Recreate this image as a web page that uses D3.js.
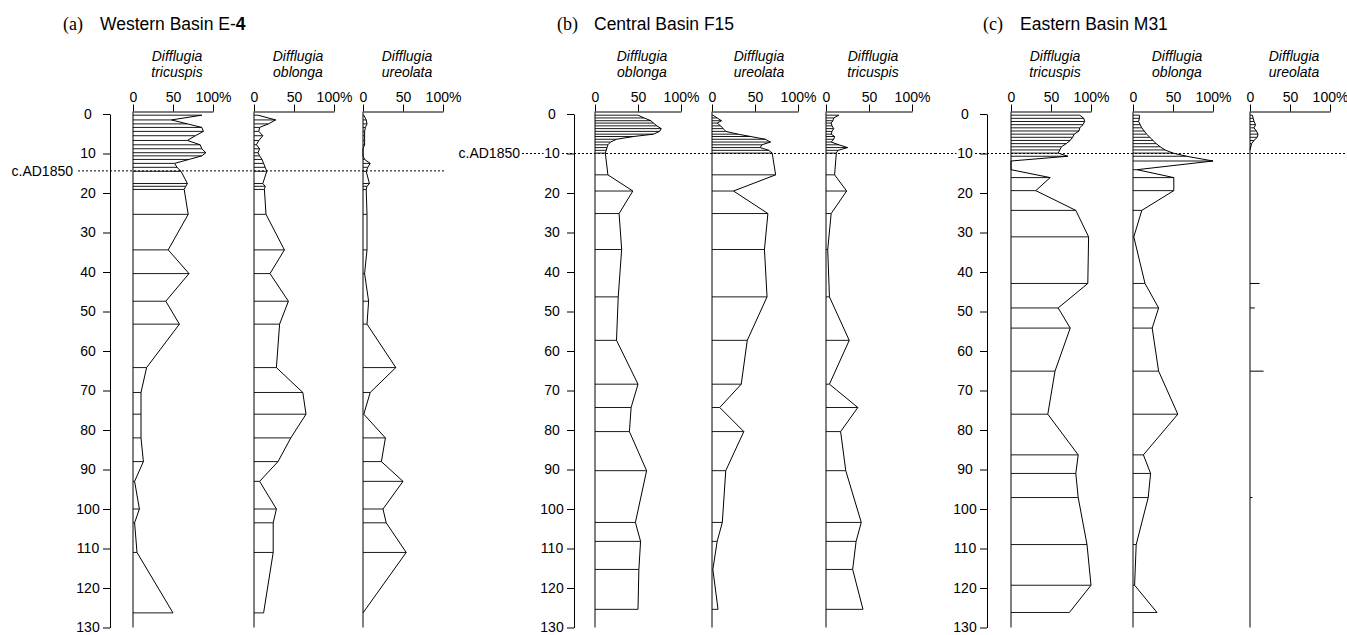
<!DOCTYPE html>
<html>
<head>
<meta charset="utf-8">
<script src="https://cdn.jsdelivr.net/npm/d3@7"></script>
<style>
body { margin: 0; background: #fff; }
svg { display: block; }
text { font-family: "Liberation Sans", Arial, sans-serif; fill: #000; }
</style>
</head>
<body>
<svg width="1347" height="635"></svg>
<script>
// sample depths (cm) and percentages per core
var depthsA = [0.3, 1.5, 2.5, 3.4, 4.4, 5.5, 6.7, 7.8, 8.8, 9.8, 10.6, 11.5, 12.5, 13.5, 14.5, 17.6, 18.3, 19.1,
               25.4, 34.4, 40.4, 47.4, 53.2, 64.2, 70.5, 76, 82, 88, 93, 100, 103.5, 111, 126.3];
var tricuspisA = [86, 48, 68, 86, 88, 78, 68, 84, 86, 91, 86, 70, 52, 55, 60, 68, 66, 64,
                  69, 44, 70, 41, 58, 17, 10, 10, 10, 13, 2, 8, 2, 5, 50];
var oblongaA = [5, 27, 18, 7, 6, 11, 6, 3, 7, 5, 7, 10, 12, 14, 16, 11, 14, 13,
                15, 38, 20, 43, 32, 28, 61, 65, 46, 30, 7, 28, 24, 24, 12];
var ureolataA = [1, 4, 5, 3, 2, 2, 2, 2, 0, 0, 0, 2, 9, 6, 4, 8, 5, 4,
                 5, 5, 2, 7, 5, 41, 9, 1, 28, 23, 50, 25, 29, 54, 0];

var depthsB = [0.3, 1.0, 1.7, 2.3, 3.0, 3.7, 4.4, 5.1, 5.7, 6.4, 7.1, 7.8, 8.5, 9.2, 9.9,
               15.4, 19.5, 25.2, 34.3, 46.3, 57.3, 68.4, 74.3, 80.4, 90.3, 103.4, 108.2, 115.3, 125.4];
var oblongaB = [50, 57, 65, 68, 72, 77, 75, 68, 45, 25, 18, 15, 14, 13, 12,
                15, 44, 28, 31, 27, 25, 50, 42, 40, 60, 47, 53, 51, 50];
var ureolataB = [1, 6, 11, 6, 10, 13, 16, 30, 45, 62, 68, 58, 56, 66, 70,
                 74, 25, 65, 61, 64, 41, 34, 9, 37, 16, 12, 6, 1, 7];
var tricuspisB = [15, 9, 8, 6, 7, 9, 7, 6, 10, 9, 6, 15, 25, 14, 12,
                  10, 24, 6, 2, 4, 27, 4, 37, 17, 23, 41, 35, 31, 43];

var depthsC = [0.3, 1.1, 1.9, 2.7, 3.5, 4.3, 5.1, 5.9, 6.7, 7.5, 8.3, 9.1, 9.9, 10.7,
               11.9, 14.1, 16.1, 19.4, 24.4, 31.1, 42.9, 49.1, 54.2, 65.1, 76, 86.3, 91, 97.1, 109, 119.3, 126.2];
var tricuspisC = [86, 91, 92, 90, 86, 85, 79, 77, 74, 69, 63, 61, 59, 71,
                  0, 0, 49, 31, 81, 97, 96, 59, 74, 55, 46, 84, 81, 84, 95, 100, 73];
var oblongaC = [8, 8, 7, 9, 11, 14, 17, 21, 25, 29, 34, 40, 50, 67,
                100, 5, 51, 51, 11, 1, 15, 32, 24, 32, 56, 13, 22, 19, 4, 2, 30];
var ureolataC = [3, 4, 5, 7, 5, 8, 10, 9, 5, 2, 1, 0, null, null,
                 null, null, null, null, null, null, null, null, null, null, null, null, null, null, null, null, null];
// isolated occurrences below the main profile
var ureolataCTraceDepths = [42.9, 49.1, 65.1, 97.1];
var ureolataCTraceValues = [12, 6, 17, 3];

var depthTicks = [0, 10, 20, 30, 40, 50, 60, 70, 80, 90, 100, 110, 120, 130];
var pctTicks = [0, 50, 100];
var horizonLabel = "c.AD1850";

var svg = d3.select("svg");
var y = d3.scaleLinear().domain([0, 130]).range([114, 627.5]);
var topY = y(0) - 2.5;

var panels = [
  {letter: "(a)", name: "Western Basin E-", bold: "4", tx: 63, axisX: 110, depths: depthsA,
   horizon: 14.4, line: [78, 445], labelX: 73,
   cols: [{x0: 133, w: 80, sp: "tricuspis", v: tricuspisA},
          {x0: 254, w: 80, sp: "oblonga", v: oblongaA},
          {x0: 363, w: 80, sp: "ureolata", v: ureolataA}]},
  {letter: "(b)", name: "Central Basin F15", bold: "", tx: 557, axisX: 574, depths: depthsB,
   horizon: 10, line: [522, 935], labelX: 520,
   cols: [{x0: 595, w: 86, sp: "oblonga", v: oblongaB},
          {x0: 712, w: 86, sp: "ureolata", v: ureolataB},
          {x0: 826, w: 86, sp: "tricuspis", v: tricuspisB}]},
  {letter: "(c)", name: "Eastern Basin M31", bold: "", tx: 983, axisX: 987, depths: depthsC,
   horizon: 10, line: [935, 1347], labelX: null,
   cols: [{x0: 1011, w: 80, sp: "tricuspis", v: tricuspisC},
          {x0: 1133, w: 80, sp: "oblonga", v: oblongaC},
          {x0: 1250, w: 80, sp: "ureolata", v: ureolataC,
           traces: {d: ureolataCTraceDepths, v: ureolataCTraceValues}}]}
];

panels.forEach(function(p) {
  var g = svg.append("g");

  // title
  g.append("text").attr("x", p.tx).attr("y", 30)
    .style("font-family", "'Liberation Serif', 'Times New Roman', serif")
    .attr("font-size", 18).text(p.letter);
  var t = g.append("text").attr("x", p.tx + 37).attr("y", 30).attr("font-size", 17.5).text(p.name);
  if (p.bold) t.append("tspan").attr("font-weight", "bold").text(p.bold);

  // horizon line
  g.append("line")
    .attr("x1", p.line[0]).attr("x2", p.line[1])
    .attr("y1", y(p.horizon)).attr("y2", y(p.horizon))
    .attr("stroke", "#000").attr("stroke-width", 1).attr("stroke-dasharray", "2,2");
  if (p.labelX != null) {
    g.append("text").attr("x", p.labelX).attr("y", y(p.horizon)).attr("dy", "0.35em")
      .attr("text-anchor", "end").attr("font-size", 14).text(horizonLabel);
  }

  // depth axis
  var da = g.append("g").attr("transform", "translate(" + p.axisX + ",0)")
    .call(d3.axisLeft(y).tickValues(depthTicks).tickSize(7).tickSizeOuter(0))
    .attr("font-size", 14);
  da.selectAll("text").attr("text-anchor", "middle").attr("x", -22);
  da.selectAll(".tick").filter(function(d) { return d === p.horizon; }).select("text")
    .style("paint-order", "stroke").style("stroke", "#fff").style("stroke-width", 4);

  p.cols.forEach(function(c) {
    var x = d3.scaleLinear().domain([0, 100]).range([c.x0, c.x0 + c.w]);
    var cx = c.x0 + c.w / 2 + 4;

    g.append("text").attr("x", cx).attr("y", 61).attr("text-anchor", "middle")
      .attr("font-size", 14).attr("font-style", "italic").text("Difflugia");
    g.append("text").attr("x", cx).attr("y", 77).attr("text-anchor", "middle")
      .attr("font-size", 14).attr("font-style", "italic").text(c.sp);

    g.append("g").attr("transform", "translate(0," + topY + ")")
      .call(d3.axisTop(x).tickValues(pctTicks).tickSize(7).tickSizeOuter(0)
        .tickFormat(function(d) { return d === 100 ? "100%" : d; }))
      .attr("font-size", 14);

    var pts = p.depths.map(function(d, i) { return {d: d, v: c.v[i]}; });

    // sample bars
    g.selectAll(null).data(pts.filter(function(s) { return s.v != null; }))
      .enter().append("line")
      .attr("x1", x(0)).attr("x2", function(s) { return x(s.v); })
      .attr("y1", function(s) { return y(s.d); }).attr("y2", function(s) { return y(s.d); })
      .attr("stroke", "#000").attr("stroke-width", 0.9);

    if (c.traces) {
      g.selectAll(null).data(c.traces.d)
        .enter().append("line")
        .attr("x1", x(0)).attr("x2", function(d, i) { return x(c.traces.v[i]); })
        .attr("y1", function(d) { return y(d); }).attr("y2", function(d) { return y(d); })
        .attr("stroke", "#000").attr("stroke-width", 1);
    }

    // outline
    var line = d3.line()
      .defined(function(s) { return s.v != null; })
      .x(function(s) { return x(s.v); })
      .y(function(s) { return y(s.d); });
    g.append("path").attr("d", line(pts))
      .attr("fill", "none").attr("stroke", "#000").attr("stroke-width", 1);

    // zero line
    g.append("line").attr("x1", x(0)).attr("x2", x(0))
      .attr("y1", topY).attr("y2", y(130))
      .attr("stroke", "#000").attr("stroke-width", 1);
  });
});
</script>
</body>
</html>
